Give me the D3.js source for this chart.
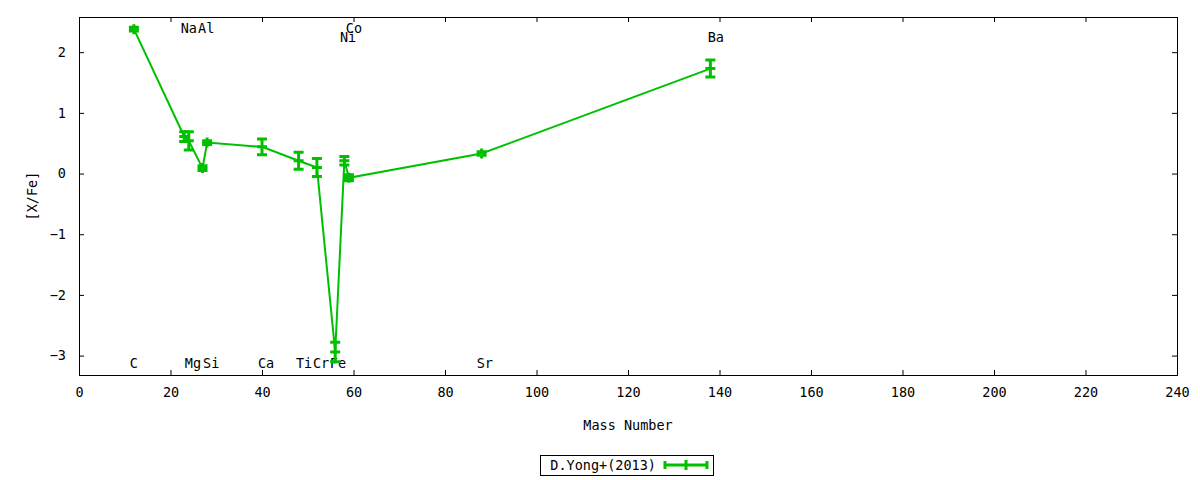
<!DOCTYPE html>
<html>
<head>
<meta charset="utf-8">
<script src="https://cdn.jsdelivr.net/npm/d3@7"></script>
<style>
    body { margin: 0; background: #fff; }
    text { font-family: "DejaVu Sans Mono", monospace; font-size: 13.5px; fill: #000; }
</style>
</head>
<body>
<div id="chart"></div>
<script>
var elements = ["C", "Na", "Mg", "Al", "Si", "Ca", "Ti", "Cr", "Fe", "Ni", "Co", "Sr", "Ba"];
var massNumber = [12, 23, 24, 27, 28, 40, 48, 52, 56, 58, 59, 88, 138];
var xFe = [2.38, 0.61, 0.54, 0.09, 0.51, 0.44, 0.21, 0.10, -2.94, 0.21, -0.07, 0.33, 1.73];
var xFeErr = [0.03, 0.08, 0.15, 0.04, 0.03, 0.13, 0.14, 0.15, 0.16, 0.07, 0.05, 0.03, 0.14];

// element names drawn in the plot, positions
var labelX = [12.0, 24.0, 24.9, 27.8, 28.9, 40.9, 49.2, 52.9, 56.6, 58.8, 60.1, 88.7, 139.2];
var labelY = [-3.12, 2.40, -3.12, 2.40, -3.12, -3.12, -3.12, -3.12, -3.12, 2.25, 2.40, -3.12, 2.25];

var xTicks = [0, 20, 40, 60, 80, 100, 120, 140, 160, 180, 200, 220, 240];
var yTicks = [-3, -2, -1, 0, 1, 2];
var seriesName = "D.Yong+(2013)";

var _width = 1200, _height = 480;
var _left = 79, _right = 1177, _top = 17, _bottom = 375;
var _color = "#00c000";
var _tick = 5, _cap = 5, _mark = 5;

var svg = d3.select("#chart").append("svg")
    .attr("width", _width)
    .attr("height", _height);

var x = d3.scaleLinear().domain([0, 240]).range([_left, _right]);
var y = d3.scaleLinear().domain([-3.32, 2.58]).range([_bottom, _top]);

// axes with inward ticks, mirrored on top and right
svg.append("g")
    .attr("transform", "translate(0," + _bottom + ")")
    .call(d3.axisBottom(x).tickValues(xTicks).tickSizeInner(-_tick).tickSizeOuter(0).tickPadding(12))
    .call(function(g) { g.select(".domain").remove(); });

svg.append("g")
    .attr("transform", "translate(0," + _top + ")")
    .call(d3.axisTop(x).tickValues(xTicks).tickSizeInner(-_tick).tickSizeOuter(0).tickFormat(""))
    .call(function(g) { g.select(".domain").remove(); });

svg.append("g")
    .attr("transform", "translate(" + _left + ",0)")
    .call(d3.axisLeft(y).tickValues(yTicks).tickSizeInner(-_tick).tickSizeOuter(0).tickPadding(13).tickFormat(d3.format("d")))
    .call(function(g) { g.select(".domain").remove(); });

svg.append("g")
    .attr("transform", "translate(" + _right + ",0)")
    .call(d3.axisRight(y).tickValues(yTicks).tickSizeInner(-_tick).tickSizeOuter(0).tickFormat(""))
    .call(function(g) { g.select(".domain").remove(); });

svg.selectAll(".tick line").attr("stroke", "#000");
svg.selectAll(".tick text")
    .style("font-family", "'DejaVu Sans Mono', monospace")
    .style("font-size", "13.5px")
    .attr("fill", "#000");

svg.append("rect")
    .attr("x", _left + 0.5)
    .attr("y", _top + 0.5)
    .attr("width", _right - _left)
    .attr("height", _bottom - _top)
    .attr("fill", "none")
    .attr("stroke", "#000")
    .attr("stroke-width", 1);

// axis titles
svg.append("text")
    .attr("x", (_left + _right) / 2)
    .attr("y", 430)
    .attr("text-anchor", "middle")
    .text("Mass Number");

svg.append("text")
    .attr("transform", "translate(37," + ((_top + _bottom) / 2) + ") rotate(-90)")
    .attr("text-anchor", "middle")
    .text("[X/Fe]");

// element labels
svg.selectAll(".elabel")
    .data(elements)
    .enter().append("text")
    .attr("class", "elabel")
    .attr("x", function(d, i) { return x(labelX[i]); })
    .attr("y", function(d, i) { return y(labelY[i]) + 5; })
    .attr("text-anchor", "middle")
    .text(function(d) { return d; });

// connecting line
var line = d3.line()
    .x(function(d) { return x(massNumber[d]); })
    .y(function(d) { return y(xFe[d]); });

var plot = svg.append("g");

plot.append("path")
    .attr("d", line(d3.range(elements.length)))
    .attr("fill", "none")
    .attr("stroke", _color)
    .attr("stroke-width", 2);

// error bars and markers
var pts = plot.selectAll(".pt")
    .data(d3.range(elements.length))
    .enter().append("g")
    .attr("class", "pt")
    .attr("stroke", _color)
    .attr("stroke-width", 3)
    .attr("fill", "none");

pts.append("path")
    .attr("d", function(i) {
        var cx = x(massNumber[i]);
        var y0 = y(xFe[i] - xFeErr[i]), y1 = y(xFe[i] + xFeErr[i]), cy = y(xFe[i]);
        return "M" + cx + "," + y0 + "V" + y1 +
            "M" + (cx - _cap) + "," + y0 + "H" + (cx + _cap) +
            "M" + (cx - _cap) + "," + y1 + "H" + (cx + _cap) +
            "M" + (cx - _mark) + "," + cy + "H" + (cx + _mark) +
            "M" + cx + "," + (cy - _mark) + "V" + (cy + _mark);
    });

// legend
var legend = svg.append("g");

legend.append("rect")
    .attr("x", 540.5)
    .attr("y", 455.5)
    .attr("width", 173)
    .attr("height", 20)
    .attr("fill", "none")
    .attr("stroke", "#000");

legend.append("text")
    .attr("x", 656)
    .attr("y", 470)
    .attr("text-anchor", "end")
    .text(seriesName);

legend.append("path")
    .attr("d", "M665,465H707M665,461V469M707,461V469M686,460V470")
    .attr("stroke", _color)
    .attr("stroke-width", 3)
    .attr("fill", "none");
</script>
</body>
</html>
